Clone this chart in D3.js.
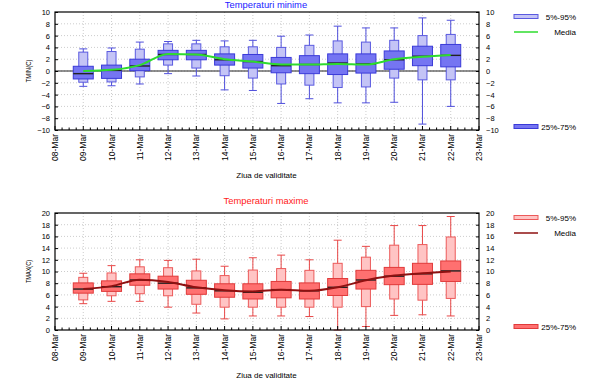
<!DOCTYPE html>
<html>
<head>
<meta charset="utf-8">
<script src="https://cdn.jsdelivr.net/npm/d3@7"></script>
<style>
  body { margin: 0; background: #fff; }
  svg { display: block; }
  text { font-family: "Liberation Sans", Arial, sans-serif; }
</style>
</head>
<body>
<svg id="chart" width="598" height="391"></svg>
<script>
// axis labels from 08-Mar to 23-Mar, boxes from 09-Mar to 22-Mar
const tickLabels = ["08-Mar","09-Mar","10-Mar","11-Mar","12-Mar","13-Mar","14-Mar","15-Mar",
                    "16-Mar","17-Mar","18-Mar","19-Mar","20-Mar","21-Mar","22-Mar","23-Mar"];
const days = ["09-Mar","10-Mar","11-Mar","12-Mar","13-Mar","14-Mar","15-Mar",
              "16-Mar","17-Mar","18-Mar","19-Mar","20-Mar","21-Mar","22-Mar"];

// TMIN percentiles
const tminP5   = [-2.6,-2.5,-2.2,-0.45,-0.85,-3.2,-3.3,-5.5,-4.7,-5.4,-5.4,-5.3,-9.0,-6.0];
const tminP10  = [-1.9,-1.85,-1.0,1.0,0.5,-0.8,-1.2,-2.2,-2.4,-2.8,-2.7,-1.2,-1.5,-1.5];
const tminP25  = [-1.35,-1.25,0.05,1.9,1.9,1.0,0.5,-0.3,-0.45,-0.6,-0.35,0.3,0.9,0.7];
const tminMed  = [-0.45,0.1,0.85,2.8,2.8,1.9,1.6,0.9,1.1,1.35,1.2,1.9,2.5,2.65];
const tminP75  = [0.8,1.0,2.0,3.5,3.5,2.9,2.8,2.3,2.6,2.9,2.9,3.4,4.2,4.5];
const tminP90  = [3.2,3.3,3.7,4.6,4.6,4.1,4.1,4.0,4.35,5.1,4.9,5.2,6.0,6.2];
const tminP95  = [3.75,3.9,4.9,5.0,5.2,5.1,5.2,5.9,6.1,7.6,7.3,7.3,9.0,8.6];
const tminMean = [0.0,0.2,1.0,2.9,2.8,2.0,1.6,1.1,1.1,1.2,1.1,2.0,2.4,2.7];

// TMAX percentiles
const tmaxP5   = [4.5,4.9,4.9,3.9,2.9,1.9,2.4,2.4,2.3,0.0,0.6,2.5,2.6,2.4];
const tmaxP10  = [5.15,5.85,6.2,5.85,4.4,3.9,3.9,3.9,3.9,3.9,4.0,5.3,5.1,5.4];
const tmaxP25  = [6.3,6.6,7.65,7.0,6.1,5.6,5.3,5.5,5.3,5.9,7.0,7.75,7.8,8.3];
const tmaxMed  = [7.0,7.4,8.55,8.0,7.2,6.7,6.45,6.9,6.7,7.3,8.55,9.2,9.6,10.1];
const tmaxP75  = [8.05,8.4,9.6,9.2,8.5,7.9,7.9,8.3,8.05,8.8,10.2,10.7,11.4,11.8];
const tmaxP90  = [9.0,9.75,10.8,10.65,10.1,9.3,10.25,10.5,10.2,11.4,12.45,14.5,14.6,15.9];
const tmaxP95  = [9.7,11.0,12.0,11.9,12.1,10.9,12.35,12.8,12.0,15.35,14.3,17.85,17.85,19.4];
const tmaxMean = [7.0,7.5,8.6,8.2,7.3,6.8,6.6,6.9,6.7,7.3,8.5,9.3,9.7,10.0];

const legendLabels = ["5%-95%","Media","25%-75%"];

const svg = d3.select("#chart");
const left = 55, right = 479;

const x = d3.scaleLinear().domain([0, tickLabels.length - 1]).range([left, right]);

function panel(cfg) {
  const y = d3.scaleLinear().domain(cfg.domain).range([cfg.bottom, cfg.top]);
  const yTicks = d3.range(cfg.domain[0], cfg.domain[1] + 0.001, 2);
  const g = svg.append("g");

  // grid
  g.selectAll("line.vgrid").data(d3.range(1, tickLabels.length - 1)).enter().append("line")
    .attr("x1", d => x(d)).attr("x2", d => x(d))
    .attr("y1", cfg.top).attr("y2", cfg.bottom)
    .attr("stroke", "#aaa").attr("stroke-width", 0.6).attr("stroke-dasharray", "1,2");
  g.selectAll("line.hgrid").data(yTicks.slice(1, -1)).enter().append("line")
    .attr("x1", left).attr("x2", right)
    .attr("y1", d => y(d)).attr("y2", d => y(d))
    .attr("stroke", "#aaa").attr("stroke-width", 0.6).attr("stroke-dasharray", "1,2");

  if (cfg.domain[0] < 0) {
    g.append("line").attr("x1", left).attr("x2", right)
      .attr("y1", y(0)).attr("y2", y(0)).attr("stroke", "#222").attr("stroke-width", 1);
  }

  const items = days.map((d, i) => ({
    pos: tickLabels.indexOf(d), p5: cfg.p5[i], p10: cfg.p10[i], p25: cfg.p25[i],
    med: cfg.med[i], p75: cfg.p75[i], p90: cfg.p90[i], p95: cfg.p95[i]
  }));

  // whiskers
  g.selectAll("line.wh").data(items).enter().append("line")
    .attr("x1", d => x(d.pos)).attr("x2", d => x(d.pos))
    .attr("y1", d => y(d.p5)).attr("y2", d => y(d.p95))
    .attr("stroke", cfg.whisker).attr("stroke-width", 1);
  ["p5", "p95"].forEach(k => {
    g.selectAll("line.cap" + k).data(items).enter().append("line")
      .attr("x1", d => x(d.pos) - 4).attr("x2", d => x(d.pos) + 4)
      .attr("y1", d => y(d[k])).attr("y2", d => y(d[k]))
      .attr("stroke", cfg.whisker).attr("stroke-width", 1);
  });

  // 10-90 (light) boxes
  g.selectAll("rect.light").data(items).enter().append("rect")
    .attr("x", d => x(d.pos) - 4.5).attr("width", 9)
    .attr("y", d => y(d.p90)).attr("height", d => y(d.p10) - y(d.p90))
    .attr("fill", cfg.lightFill).attr("stroke", cfg.lightStroke).attr("stroke-width", 1);

  // 25-75 boxes
  g.selectAll("rect.dark").data(items).enter().append("rect")
    .attr("x", d => x(d.pos) - 10).attr("width", 20)
    .attr("y", d => y(d.p75)).attr("height", d => y(d.p25) - y(d.p75))
    .attr("fill", cfg.darkFill).attr("stroke", cfg.darkStroke).attr("stroke-width", 1);

  // medians
  g.selectAll("line.med").data(items).enter().append("line")
    .attr("x1", d => x(d.pos) - 10).attr("x2", d => x(d.pos) + 10)
    .attr("y1", d => y(d.med)).attr("y2", d => y(d.med))
    .attr("stroke", "#222").attr("stroke-width", 1.4);

  // mean
  const line = d3.line().x(d => x(d.pos)).y(d => y(d.v)).curve(d3.curveMonotoneX);
  g.append("path")
    .datum(days.map((d, i) => ({ pos: tickLabels.indexOf(d), v: cfg.mean[i] })))
    .attr("d", line).attr("fill", "none")
    .attr("stroke", cfg.meanColor).attr("stroke-width", 2);

  // frame
  g.append("rect").attr("x", left).attr("y", cfg.top)
    .attr("width", right - left).attr("height", cfg.bottom - cfg.top)
    .attr("fill", "none").attr("stroke", "#000").attr("stroke-width", 1.2);

  // x ticks: major each day, minor each 6h
  const minor = d3.range(0, tickLabels.length - 1 + 0.001, 0.25);
  g.selectAll("line.xt").data(minor).enter().append("line")
    .attr("x1", d => x(d)).attr("x2", d => x(d))
    .attr("y1", cfg.bottom).attr("y2", d => cfg.bottom - (Number.isInteger(d) ? 4 : 2.5))
    .attr("stroke", "#000").attr("stroke-width", 1);

  g.selectAll("text.xl").data(tickLabels).enter().append("text")
    .attr("transform", (d, i) => `translate(${x(i) + 3},${cfg.bottom + 4}) rotate(-90)`)
    .attr("text-anchor", "end").attr("font-size", 8.5).attr("fill", "#000")
    .text(d => d);

  // y ticks left and right
  const yAxisL = d3.axisLeft(y).tickValues(yTicks).tickSize(-3).tickPadding(5).tickFormat(d3.format("d"));
  const yAxisR = d3.axisRight(y).tickValues(yTicks).tickSize(-3).tickPadding(7).tickFormat(d3.format("d"));
  [[yAxisL, left], [yAxisR, right]].forEach(([ax, px]) => {
    const a = g.append("g").attr("transform", `translate(${px},0)`).call(ax);
    a.select(".domain").remove();
    a.selectAll("text").attr("font-size", 7.5).attr("font-family", "Liberation Sans, Arial, sans-serif");
  });

  // titles
  g.append("text").attr("x", 266).attr("y", cfg.titleY).attr("text-anchor", "middle")
    .attr("font-size", 9.4).attr("fill", cfg.titleColor).text(cfg.title);
  g.append("text").attr("x", 266.5).attr("y", cfg.bottom + 48).attr("text-anchor", "middle")
    .attr("font-size", 8).attr("fill", "#000").text("Ziua de validitate");
  g.append("text")
    .attr("transform", `translate(30.5,${(cfg.top + cfg.bottom) / 2}) rotate(-90)`)
    .attr("text-anchor", "middle").attr("font-size", 7.5).attr("fill", "#000")
    .attr("textLength", 23).attr("lengthAdjust", "spacingAndGlyphs").text(cfg.yLabel);

  // legend
  const lg = g.append("g");
  lg.append("rect").attr("x", 514).attr("y", cfg.top + 2.5).attr("width", 24).attr("height", 4)
    .attr("fill", cfg.lightFill).attr("stroke", cfg.lightStroke).attr("stroke-width", 1);
  lg.append("line").attr("x1", 514).attr("x2", 538).attr("y1", cfg.top + 20).attr("y2", cfg.top + 20)
    .attr("stroke", cfg.meanColor).attr("stroke-width", 1.5);
  lg.append("rect").attr("x", 514).attr("y", cfg.bottom - 5.5).attr("width", 24).attr("height", 4)
    .attr("fill", cfg.darkFill).attr("stroke", cfg.darkStroke).attr("stroke-width", 1);
  lg.append("text").attr("x", 576).attr("y", cfg.top + 7.5).attr("text-anchor", "end")
    .attr("font-size", 8).text(legendLabels[0]);
  lg.append("text").attr("x", 576).attr("y", cfg.top + 23).attr("text-anchor", "end")
    .attr("font-size", 8).text(legendLabels[1]);
  lg.append("text").attr("x", 576).attr("y", cfg.bottom - 0.5).attr("text-anchor", "end")
    .attr("font-size", 8).text(legendLabels[2]);
}

panel({
  top: 12, bottom: 130, domain: [-10, 10],
  p5: tminP5, p10: tminP10, p25: tminP25, med: tminMed, p75: tminP75, p90: tminP90, p95: tminP95,
  mean: tminMean,
  lightFill: "#c4c4f6", lightStroke: "#5a5ae0", darkFill: "#7575f2", darkStroke: "#3a3ad8",
  whisker: "#5050dc", meanColor: "#2edc2e",
  title: "Temperaturi minime", titleColor: "#1a1aff", titleY: 7.5, yLabel: "TMIN(C)"
});

panel({
  top: 213, bottom: 330, domain: [0, 20],
  p5: tmaxP5, p10: tmaxP10, p25: tmaxP25, med: tmaxMed, p75: tmaxP75, p90: tmaxP90, p95: tmaxP95,
  mean: tmaxMean,
  lightFill: "#ffc4c4", lightStroke: "#ec5a5a", darkFill: "#ff7070", darkStroke: "#e03a3a",
  whisker: "#e84848", meanColor: "#8e1010",
  title: "Temperaturi maxime", titleColor: "#ff2020", titleY: 204, yLabel: "TMAX(C)"
});
</script>
</body>
</html>
